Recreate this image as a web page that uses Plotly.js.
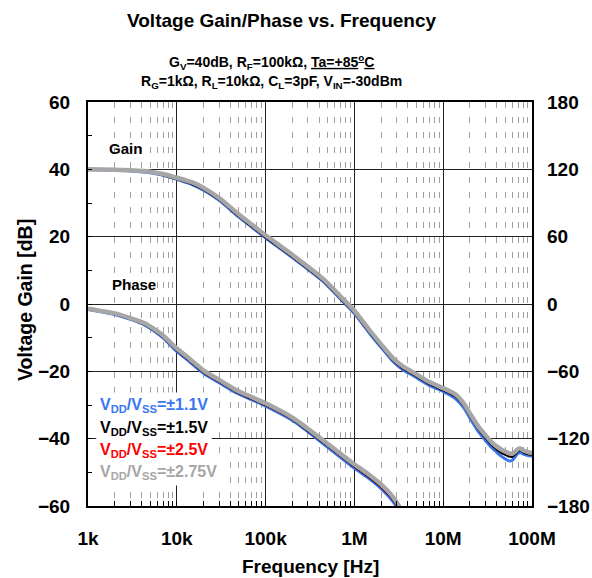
<!DOCTYPE html>
<html>
<head>
<meta charset="utf-8">
<script src="https://cdn.plot.ly/plotly-3.0.1.min.js"></script>
<style>html,body{margin:0;padding:0;background:#fff;}#chart{width:592px;height:578px;}</style>
</head>
<body>
<div id="chart"></div>
<script>
// ---- data ----
const seriesNames = ["VDD/VSS=±1.1V", "VDD/VSS=±1.5V", "VDD/VSS=±2.5V", "VDD/VSS=±2.75V"];
const legendLabels = ["V<sub>DD</sub>/V<sub>SS</sub>=±1.1V", "V<sub>DD</sub>/V<sub>SS</sub>=±1.5V", "V<sub>DD</sub>/V<sub>SS</sub>=±2.5V", "V<sub>DD</sub>/V<sub>SS</sub>=±2.75V"];

const xTickVals = [1e3, 1e4, 1e5, 1e6, 1e7, 1e8];
const xTickText = ["1k", "10k", "100k", "1M", "10M", "100M"];

const freqGain = [1e3, 2e3, 3e3, 5e3, 7e3, 1e4, 1.5e4, 2e4, 3e4, 5e4, 7e4, 1e5, 2e5, 4.43e5, 7e5, 1e6, 1.5e6, 2e6, 2.7e6, 3.5e6, 4.6e6, 7e6, 1e7, 1.2e7, 1.4e7, 1.7e7, 2e7, 2.5e7, 3e7, 3.5e7, 4e7, 4.5e7, 5e7, 5.5e7, 6e7, 6.5e7, 7e7, 7.5e7, 8e7, 9e7, 1e8];

const gainBlue  = [39.9, 39.7, 39.5, 39.0, 38.2, 37.0, 35.4, 33.8, 30.8, 25.8, 22.8, 19.6, 13.8, 6.7, 1.4, -2.8, -8.9, -12.9, -17.0, -19.5, -21.3, -24.2, -26.0, -27.1, -28.3, -30.8, -33.9, -38.0, -40.6, -42.6, -44.0, -45.2, -46.0, -46.6, -46.4, -45.3, -44.3, -44.2, -44.6, -45.0, -45.2];
const gainBlack = [40.0, 39.8, 39.6, 39.1, 38.3, 37.1, 35.6, 34.0, 31.0, 26.0, 23.0, 19.8, 14.0, 6.9, 1.6, -2.6, -8.6, -12.6, -16.6, -19.1, -20.9, -23.8, -25.6, -26.6, -27.7, -30.2, -33.2, -37.2, -39.8, -41.8, -43.2, -44.2, -44.8, -45.3, -45.4, -44.6, -43.7, -43.6, -44.1, -44.6, -44.8];
const gainRed   = [40.1, 39.9, 39.6, 39.2, 38.4, 37.2, 35.7, 34.1, 31.1, 26.1, 23.1, 19.9, 14.1, 7.0, 1.7, -2.5, -8.5, -12.5, -16.5, -19.0, -20.8, -23.6, -25.4, -26.4, -27.5, -30.0, -33.0, -37.0, -39.5, -41.5, -42.9, -43.7, -44.2, -44.8, -44.6, -43.8, -42.9, -43.2, -43.8, -44.3, -44.7];
const gainGray  = [40.0, 39.9, 39.7, 39.3, 38.6, 37.5, 36.1, 34.5, 31.5, 26.6, 23.6, 20.4, 14.6, 7.5, 2.2, -2.0, -8.0, -12.0, -16.0, -18.5, -20.3, -23.2, -25.0, -26.0, -27.0, -29.5, -32.5, -36.5, -39.0, -41.0, -42.3, -43.2, -43.8, -44.3, -44.5, -43.8, -43.0, -43.0, -43.5, -44.0, -44.3];

const freqPhase = [1e3, 2e3, 3e3, 4.4e3, 7e3, 9.5e3, 1.4e4, 2.07e4, 3e4, 4.7e4, 7e4, 1e5, 1.88e5, 2.44e5, 4.1e5, 6e5, 9.6e5, 1.4e6, 1.94e6, 2.7e6, 3.2e6, 3.6e6];
const phaseBlue  = [-4.8, -9.3, -13.7, -19.0, -30.2, -40.6, -51.7, -62.7, -70.2, -79.3, -85.5, -91.0, -102.5, -108.6, -122.3, -132.6, -145.2, -154.5, -163.7, -175.8, -185.0, -194.6];
const phaseBlack = [-4.6, -9.0, -13.3, -18.5, -29.5, -39.8, -50.8, -61.8, -69.3, -78.4, -84.6, -90.1, -101.5, -107.6, -121.2, -131.4, -143.9, -153.1, -162.2, -174.1, -183.2, -192.7];
const phaseRed   = [-4.5, -8.9, -13.2, -18.3, -29.3, -39.6, -50.5, -61.5, -69.0, -78.1, -84.3, -89.8, -101.2, -107.3, -120.9, -131.1, -143.6, -152.8, -161.9, -173.8, -182.9, -192.4];
const phaseGray  = [-4.2, -8.4, -12.5, -17.4, -28.0, -38.1, -49.0, -60.0, -67.6, -76.8, -83.0, -88.5, -99.9, -105.9, -119.4, -129.5, -141.9, -151.0, -159.9, -171.6, -180.6, -190.0];

const colors = ["#3a76f0", "#000000", "#ff0000", "#a6a6a6"];
const widths = [3, 2.2, 1.5, 4.5];
const gains = [gainBlue, gainBlack, gainRed, gainGray];
const phases = [phaseBlue, phaseBlack, phaseRed, phaseGray];

const FONT = "Liberation Sans, Arial, sans-serif";

const traces = [];
for (let i = 0; i < 4; i++) {
  traces.push({x: freqGain, y: gains[i], type: "scatter", mode: "lines", name: seriesNames[i],
    line: {color: colors[i], width: widths[i], shape: "spline", smoothing: 0.6}, xaxis: "x", yaxis: "y", showlegend: false, hoverinfo: "skip"});
  traces.push({x: freqPhase, y: phases[i], type: "scatter", mode: "lines", name: seriesNames[i],
    line: {color: colors[i], width: widths[i], shape: "spline", smoothing: 0.6}, xaxis: "x", yaxis: "y2", showlegend: false, hoverinfo: "skip"});
}

const annotations = [
  {text: "<b>Voltage Gain/Phase vs. Frequency</b>", xref: "paper", yref: "paper", x: (281-88)/444, y: 1 + (102-20)/404,
   showarrow: false, xanchor: "center", yanchor: "middle", font: {family: FONT, size: 19, color: "#000"}},
  {text: "<b>G<sub>V</sub>=40dB, R<sub>F</sub>=100kΩ, <u>Ta=+85<sup>o</sup>C</u></b>", xref: "paper", yref: "paper", x: (271-88)/444, y: 1 + (102-62)/404,
   showarrow: false, xanchor: "center", yanchor: "middle", font: {family: FONT, size: 14, color: "#000"}},
  {text: "<b>R<sub>G</sub>=1kΩ, R<sub>L</sub>=10kΩ, C<sub>L</sub>=3pF, V<sub>IN</sub>=-30dBm</b>", xref: "paper", yref: "paper", x: (271-88)/444, y: 1 + (102-82)/404,
   showarrow: false, xanchor: "center", yanchor: "middle", font: {family: FONT, size: 14, color: "#000"}},
  {text: "<b>Voltage Gain [dB]</b>", xref: "paper", yref: "paper", x: (25-88)/444, y: 1 - (300-102)/404, textangle: -90,
   showarrow: false, xanchor: "center", yanchor: "middle", font: {family: FONT, size: 19.5, color: "#000"}},
  {text: "<b>Frequency [Hz]</b>", xref: "paper", yref: "paper", x: (310-88)/444, y: 1 - (566-102)/404,
   showarrow: false, xanchor: "center", yanchor: "middle", font: {family: FONT, size: 19, color: "#000"}},
  {text: "<b>Gain</b>", xref: "paper", yref: "paper", x: (107-88)/444, y: 1 - (148-102)/404,
   showarrow: false, xanchor: "left", yanchor: "middle", font: {family: FONT, size: 15, color: "#000"}},
  {text: "<b>Phase</b>", xref: "paper", yref: "paper", x: (110-88)/444, y: 1 - (284-102)/404,
   showarrow: false, xanchor: "left", yanchor: "middle", font: {family: FONT, size: 15, color: "#000"}}
];
const legendY = [405, 428, 450, 472];
for (let i = 0; i < 4; i++) {
  annotations.push({text: "<b>" + legendLabels[i] + "</b>", xref: "paper", yref: "paper", x: (96-88)/444, y: 1 - (legendY[i]-102)/404,
    showarrow: false, xanchor: "left", yanchor: "middle", bgcolor: "#ffffff", borderpad: 3,
    font: {family: FONT, size: 16, color: colors[i]}});
}

const layout = {
  width: 592, height: 578,
  margin: {l: 88, r: 60, t: 102, b: 72, pad: 0},
  paper_bgcolor: "#fff", plot_bgcolor: "#fff",
  showlegend: false,
  font: {family: FONT, size: 19, color: "#000"},
  xaxis: {
    type: "log", range: [3, 8],
    tickmode: "array", tickvals: xTickVals, ticktext: xTickText,
    showline: true, linewidth: 2, linecolor: "#000", mirror: true,
    showgrid: true, gridcolor: "#222", gridwidth: 1,
    ticks: "inside", ticklen: 5, tickcolor: "#000",
    tickfont: {family: FONT, size: 19, color: "#000", weight: "bold"},
    ticklabelstandoff: 14,
    minor: {dtick: "D1", showgrid: true, gridcolor: "#a0a0a0", griddash: "6px,9px", gridwidth: 1,
            ticks: "inside", ticklen: 5, tickcolor: "#000"},
    zeroline: false, fixedrange: true
  },
  yaxis: {
    range: [-60, 60], dtick: 20,
    showline: true, linewidth: 2, linecolor: "#000", mirror: true,
    showgrid: true, gridcolor: "#222", gridwidth: 1, zeroline: false,
    ticks: "inside", ticklen: 4, tickcolor: "#000",
    tickfont: {family: FONT, size: 19, color: "#000", weight: "bold"},
    ticklabelstandoff: 12,
    minor: {dtick: 10, ticks: "inside", ticklen: 4, tickcolor: "#000", showgrid: false},
    fixedrange: true
  },
  yaxis2: {
    range: [-180, 180], dtick: 60, overlaying: "y", side: "right",
    showgrid: false, zeroline: false, showline: false, ticks: "",
    tickfont: {family: FONT, size: 19, color: "#000", weight: "bold"},
    ticklabelstandoff: 14,
    fixedrange: true
  },
  annotations: annotations
};

Plotly.newPlot("chart", traces, layout, {staticPlot: true, displayModeBar: false});
</script>
</body>
</html>
